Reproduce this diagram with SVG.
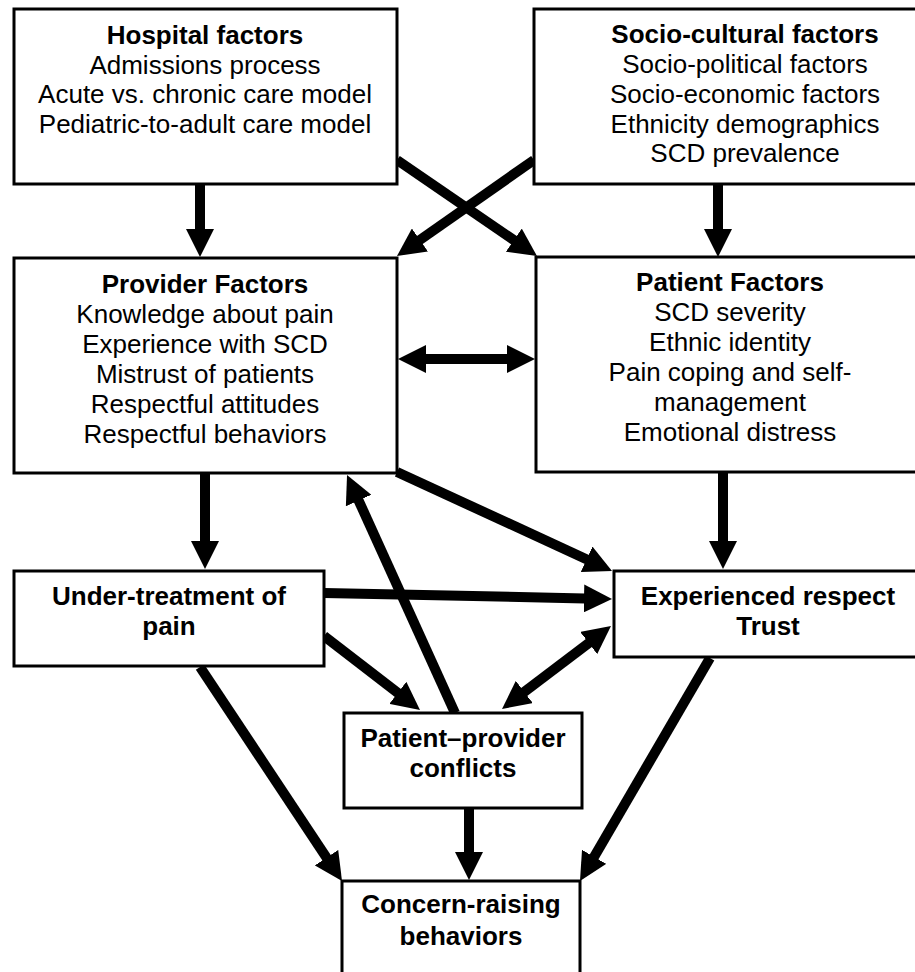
<svg xmlns="http://www.w3.org/2000/svg" width="915" height="972" viewBox="0 0 915 972">
<style>
.box{fill:#fff;stroke:#000;stroke-width:3}
text{font-family:"Liberation Sans",Arial,sans-serif;font-size:26px;fill:#000;text-anchor:middle}
.b{font-weight:bold}
.c{stroke:#000;stroke-width:10;fill:none}
.a{marker-end:url(#ah)}
.d{marker-start:url(#ah);marker-end:url(#ah)}
</style>
<defs>
<marker id="ah" markerUnits="userSpaceOnUse" viewBox="0 0 28 28" markerWidth="28" markerHeight="28" refX="1" refY="14" orient="auto-start-reverse">
<path d="M0,0 L28,14 L0,28 z" fill="#000"/>
</marker>
</defs>
<rect width="915" height="972" fill="#fff"/>
<g id="connectors">
<line class="c a" x1="200" y1="184" x2="200" y2="230"/>
<line class="c a" x1="718" y1="184" x2="718" y2="230"/>
<line class="c a" x1="397" y1="160" x2="514.7" y2="240.7"/>
<line class="c a" x1="534" y1="160" x2="419.1" y2="240.5"/>
<line class="c d" x1="425" y1="359" x2="508" y2="359"/>
<line class="c a" x1="205" y1="473" x2="205" y2="542"/>
<line class="c a" x1="723" y1="472" x2="723" y2="542"/>
<line class="c a" x1="397" y1="472" x2="587.5" y2="559.7"/>
<line class="c a" x1="324" y1="593" x2="585" y2="598.4"/>
<line class="c a" x1="324" y1="636" x2="398.6" y2="693.5"/>
<line class="c a" x1="455" y1="713" x2="358.2" y2="499.6"/>
<line class="c d" x1="523.5" y1="692.6" x2="589.5" y2="642.4"/>
<line class="c a" x1="200" y1="667" x2="327.1" y2="858.5"/>
<line class="c a" x1="469" y1="808" x2="469" y2="853"/>
<line class="c a" x1="710" y1="658" x2="593.6" y2="857.7"/>
</g>
<g id="hospital">
<rect class="box" x="14" y="9" width="383" height="175"/>
<text class="b" x="205" y="44">Hospital factors</text>
<text x="205" y="73.6">Admissions process</text>
<text x="205" y="103.2">Acute vs. chronic care model</text>
<text x="205" y="132.8">Pediatric-to-adult care model</text>
</g>
<g id="sociocultural">
<rect class="box" x="534" y="9" width="430" height="175"/>
<text class="b" x="745" y="43">Socio-cultural factors</text>
<text x="745" y="73">Socio-political factors</text>
<text x="745" y="103">Socio-economic factors</text>
<text x="745" y="132.5">Ethnicity demographics</text>
<text x="745" y="162">SCD prevalence</text>
</g>
<g id="provider">
<rect class="box" x="14" y="258" width="383" height="215"/>
<text class="b" x="205" y="293">Provider Factors</text>
<text x="205" y="323">Knowledge about pain</text>
<text x="205" y="353">Experience with SCD</text>
<text x="205" y="383">Mistrust of patients</text>
<text x="205" y="413">Respectful attitudes</text>
<text x="205" y="443">Respectful behaviors</text>
</g>
<g id="patient">
<rect class="box" x="536" y="257" width="400" height="215"/>
<text class="b" x="730" y="291">Patient Factors</text>
<text x="730" y="321">SCD severity</text>
<text x="730" y="351">Ethnic identity</text>
<text x="730" y="381">Pain coping and self-</text>
<text x="730" y="411">management</text>
<text x="730" y="441">Emotional distress</text>
</g>
<g id="undertreatment">
<rect class="box" x="14" y="571" width="310" height="95"/>
<text class="b" x="169" y="605">Under-treatment of</text>
<text class="b" x="169" y="635">pain</text>
</g>
<g id="respect">
<rect class="box" x="614" y="571" width="320" height="86"/>
<text class="b" x="768" y="605">Experienced respect</text>
<text class="b" x="768" y="635">Trust</text>
</g>
<g id="conflicts">
<rect class="box" x="344" y="713" width="238" height="95"/>
<text class="b" x="463" y="747">Patient–provider</text>
<text class="b" x="463" y="777">conflicts</text>
</g>
<g id="concern">
<rect class="box" x="342" y="881" width="238" height="120"/>
<text class="b" x="461" y="913">Concern-raising</text>
<text class="b" x="461" y="945">behaviors</text>
</g>
</svg>
